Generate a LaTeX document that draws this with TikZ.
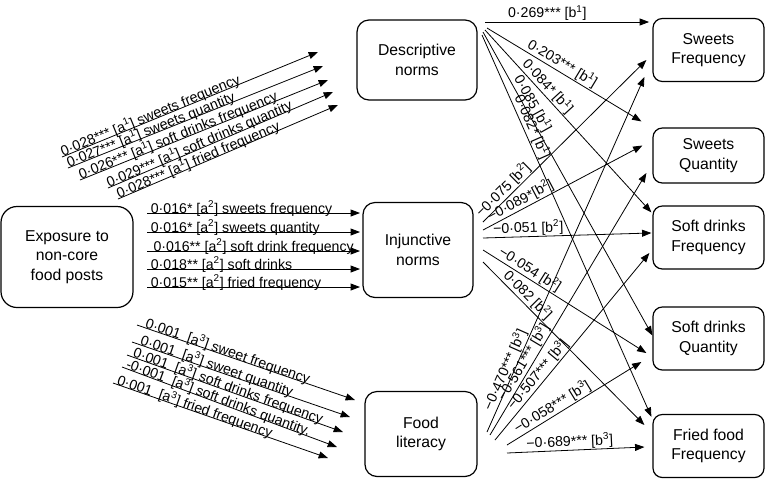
\documentclass[tikz,border=0pt]{standalone}
\usepackage{fontspec}
\setmainfont{Liberation Sans}
\usetikzlibrary{arrows.meta,calc}
\newcommand{\sps}[1]{\textsuperscript{#1}}
\begin{document}
\begin{tikzpicture}[x=0.75pt,y=-0.75pt,
  box/.style={draw, line width=0.9pt, rounded corners=9pt, align=center,
    font=\fontsize{11.8}{14.5}\selectfont, inner sep=0pt},
  rbox/.style={box, rounded corners=7pt, minimum width=83.25pt, minimum height=47.25pt},
  arr/.style={line width=0.6pt, -{Triangle[length=7pt,width=5.2pt]}},
  lab/.style={font=\fontsize{10.6}{12}\selectfont, inner sep=0.6pt, sloped},
  alab/.style={lab, anchor=base west},
  blab/.style={lab, anchor=south}
]
\useasboundingbox (0,0) rectangle (768,480);

% nodes
\node[box, rounded corners=12pt, minimum width=99pt, minimum height=75.75pt] (expo) at (67,257) {Exposure to\\non-core\\food posts};
\node[box, minimum width=90pt, minimum height=60pt] (desc) at (417,60) {Descriptive\\norms};
\node[box, minimum width=82.5pt, minimum height=71.25pt] (inj) at (418,250) {Injunctive\\norms};
\node[box, minimum width=84pt, minimum height=63.75pt] (food) at (421,434) {Food\\literacy};
\node[rbox] (sf) at (708.5,50) {Sweets\\Frequency};
\node[rbox, minimum height=41.25pt] (sq) at (708.5,155.5) {Sweets\\Quantity};
\node[rbox] (sdf) at (708.5,237.5) {Soft drinks\\Frequency};
\node[rbox] (sdq) at (708.5,338.5) {Soft drinks\\Quantity};
\node[rbox] (ff) at (708.5,446) {Fried food\\Frequency};

% a1 paths
\coordinate (a1s1) at (62,157);  \coordinate (a1e1) at (318,52);
\coordinate (a1s2) at (68,168);  \coordinate (a1e2) at (323,66);
\coordinate (a1s3) at (80,180);  \coordinate (a1e3) at (328,80);
\coordinate (a1s4) at (108,188); \coordinate (a1e4) at (333,92);
\coordinate (a1s5) at (118,199); \coordinate (a1e5) at (338,105);
\draw[arr] (a1s1) -- node[alab, pos=0]{0·028*** [a\sps{1}] sweets frequency} (a1e1);
\draw[arr] (a1s2) -- node[alab, pos=0]{0·027*** [a\sps{1}] sweets quantity} (a1e2);
\draw[arr] (a1s3) -- node[alab, pos=0]{0·026*** [a\sps{1}] soft drinks frequency} (a1e3);
\draw[arr] (a1s4) -- node[alab, pos=0]{0·029*** [a\sps{1}] soft drinks quantity} (a1e4);
\draw[arr] (a1s5) -- node[alab, pos=0]{0·028*** [a\sps{1}] fried frequency} (a1e5);

% a2 paths
\coordinate (a2s1) at (147,213); \coordinate (a2e1) at (360,213);
\coordinate (a2s2) at (147,232); \coordinate (a2e2) at (360,232);
\coordinate (a2s3) at (147,251); \coordinate (a2e3) at (360,251);
\coordinate (a2s4) at (147,269); \coordinate (a2e4) at (360,269);
\coordinate (a2s5) at (147,287); \coordinate (a2e5) at (360,287);
\draw[arr] (a2s1) -- node[alab, pos=0, xshift=2pt]{0·016* [a\sps{2}] sweets frequency} (a2e1);
\draw[arr] (a2s2) -- node[alab, pos=0, xshift=2pt]{0·016* [a\sps{2}] sweets quantity} (a2e2);
\draw[arr] (a2s3) -- node[alab, pos=0, xshift=4pt]{0·016** [a\sps{2}] soft drink frequency} (a2e3);
\draw[arr] (a2s4) -- node[alab, pos=0, xshift=2pt]{0·018** [a\sps{2}] soft drinks} (a2e4);
\draw[arr] (a2s5) -- node[alab, pos=0, xshift=2pt]{0·015** [a\sps{2}] fried frequency} (a2e5);

% a3 paths
\coordinate (a3s1) at (137,325); \coordinate (a3e1) at (355,400);
\coordinate (a3s2) at (132,342); \coordinate (a3e2) at (350,417);
\coordinate (a3s3) at (127,355); \coordinate (a3e3) at (343,432);
\coordinate (a3s4) at (122,367); \coordinate (a3e4) at (337,447);
\coordinate (a3s5) at (113,383); \coordinate (a3e5) at (328,458);
\draw[arr] (a3s1) -- node[alab, pos=0.03]{0·001\ \ [a\sps{3}] sweet frequency} (a3e1);
\draw[arr] (a3s2) -- node[alab, pos=0.03]{0·001\ \ [a\sps{3}] sweet quantity} (a3e2);
\draw[arr] (a3s3) -- node[alab, pos=0.02]{0·001\ \ [a\sps{3}] soft drinks frequency} (a3e3);
\draw[arr] (a3s4) -- node[alab, pos=0.01]{-0·001\ \ [a\sps{3}] soft drinks quantity.} (a3e4);
\draw[arr] (a3s5) -- node[alab, pos=0.01]{0·001\ \ [a\sps{3}] fried frequency} (a3e5);

% b1 paths (descriptive norms)
\coordinate (b1s1) at (485,22); \coordinate (b1s2) at (487,28);
\coordinate (b1s3) at (485,30); \coordinate (b1s4) at (483,32);
\coordinate (b1s5) at (482,35);
\draw[arr] (b1s1) -- node[blab, pos=0.38]{0·269*** [b\sps{1}]} ([xshift=-2.5pt]sf.west |- b1s1);
\draw[arr] (b1s2) -- node[blab, pos=0.46]{0·203*** [b\sps{1}]} ($(sq.north west)+(-8.25pt,4.5pt)$);
\draw[arr] (b1s3) -- node[blab, pos=0.34]{0·084* [b\sps{1}]} ($(sdf.north west)+(-0.75pt,-5.25pt)$);
\draw[arr] (b1s4) -- node[blab, pos=0.25]{0·085 [b\sps{1}]} ($(sdq.west)+(0pt,2.25pt)$);
\draw[arr] (b1s5) -- node[blab, pos=0.25]{0·082* [b\sps{1}]} ($(ff.north west)+(-0.75pt,-2.25pt)$);

% b2 paths (injunctive norms)
\coordinate (b2s1) at (483,222); \coordinate (b2s2) at (483,230);
\coordinate (b2s3) at (483,238); \coordinate (b2s4) at (483,250);
\coordinate (b2s5) at (483,262);
\draw[arr] (b2s1) -- node[blab, pos=0.16]{−0·075 [b\sps{2}]} ($(sf.west)+(-4.5pt,-7.5pt)$);
\draw[arr] (b2s2) -- node[blab, pos=0.26]{−0·089*[b\sps{2}]} ($(sq.west)+(-7.5pt,7.5pt)$);
\draw[arr] (b2s3) -- node[blab, pos=0.27]{−0·051 [b\sps{2}]} ($(sdf.west)+(-0.75pt,3.4pt)$);
\draw[arr] (b2s4) -- node[blab, pos=0.26]{−0·054 [b\sps{2}]} ($(sdq.west)+(-4.5pt,-10.9pt)$);
\draw[arr] (b2s5) -- node[blab, pos=0.24]{0·082 [b\sps{2}]} ($(ff.west)+(-6pt,15.75pt)$);

% b3 paths (food literacy)
\coordinate (b3s1) at (487,432); \coordinate (b3s2) at (490,435);
\coordinate (b3s3) at (495,440); \coordinate (b3s4) at (507,445);
\coordinate (b3s5) at (507,453);
\draw[arr] (b3s1) -- node[blab, pos=0.165]{−0·470*** [b\sps{3}]} ($(sf.west)+(-6pt,-20.25pt)$);
\draw[arr] (b3s2) -- node[blab, pos=0.26]{−0·561*** [b\sps{3}]} ($(sq.west)+(-4.5pt,-13.1pt)$);
\draw[arr] (b3s3) -- node[blab, pos=0.32]{−0·507*** [b\sps{3}]} ($(sdf.west)+(-2.25pt,-11.6pt)$);
\draw[arr] (b3s4) -- node[blab, pos=0.37]{−0·058*** [b\sps{3}]} ($(sdq.west)+(-8.25pt,-17.6pt)$);
\draw[arr] (b3s5) -- node[blab, pos=0.46]{−0·689*** [b\sps{3}]} ($(ff.west)+(-6pt,-0.75pt)$);
\end{tikzpicture}
\end{document}
